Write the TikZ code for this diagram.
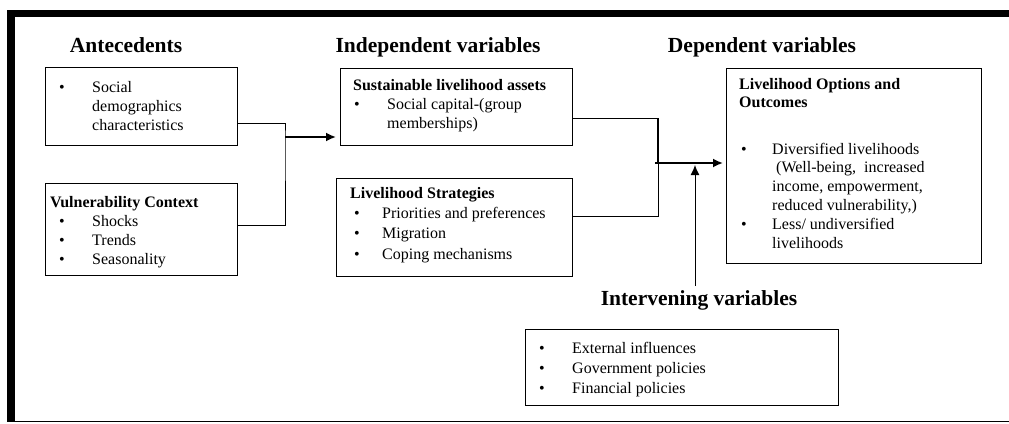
\documentclass[tikz,border=0pt]{standalone}
\usepackage{fontspec}
\setmainfont{Liberation Serif}
\usepackage{tikz}
\usetikzlibrary{positioning,calc,arrows.meta}
\newcommand{\bul}[1][33pt]{\makebox[#1][l]{\textbullet}}

\begin{document}
\begin{tikzpicture}[x=1pt, y=-1pt,
    box/.style={draw, line width=1.2pt, anchor=north west, inner sep=0},
    txt/.style={anchor=base west, align=left, inner sep=0, font=\fontsize{16}{19}\selectfont},
    head/.style={anchor=base, inner sep=0, font=\fontsize{21.5}{24}\selectfont\bfseries},
    arr/.style={-{Latex[length=10pt,width=9pt]}, line width=1.8pt}]
    \useasboundingbox (0,0) rectangle (1009,423);
    % frame
    \fill (7,10) rectangle (1009,17);
    \fill (7,10) rectangle (15,422);
    \draw[line width=1.2pt] (15,421.5) -- (1009,421.5);

    \node (antec) at (126,52.5) [head] {Antecedents};
    \node (indep) at (438,52) [head] {Independent variables};
    \node (dep) at (762,52) [head] {Dependent variables};
    \node (interv) at (699,305) [head] {Intervening variables};

    \node (social) at (45,67) [box, minimum width=192, minimum height=78] {};
    \node (vuln) at (45,183) [box, minimum width=192, minimum height=92] {};
    \node (assets) at (340,68) [box, minimum width=232, minimum height=77] {};
    \node (strat) at (336,178) [box, minimum width=236, minimum height=98] {};
    \node (outcome) at (726,68) [box, minimum width=255, minimum height=195] {};
    \node (external) at (525,329) [box, minimum width=313, minimum height=76] {};

    % text nodes sit on the baseline of their last line
    \node (socialtxt) at (59,130) [txt] {\bul Social\\ \hspace*{33pt}demographics\\ \hspace*{33pt}characteristics};
    \node (vulntxt) at (50,264) [txt] {\textbf{Vulnerability Context}\\
      \hspace*{9pt}\bul Shocks\\ \hspace*{9pt}\bul Trends\\ \hspace*{9pt}\bul Seasonality};
    \node (assetstxt) at (353,128) [txt] {\textbf{Sustainable livelihood assets}\\
      \hspace*{1pt}\bul Social capital-(group\\ \hspace*{34pt}memberships)};
    \node (strattxt) at (350,259) [txt, font=\fontsize{16}{20.3}\selectfont] {\textbf{Livelihood Strategies}\\
      \hspace*{4pt}\bul[28pt]Priorities and preferences\\ \hspace*{4pt}\bul[28pt]Migration\\
      \hspace*{4pt}\bul[28pt]Coping mechanisms};
    \node (outcomehead) at (739,107) [txt, font=\fontsize{16}{18}\selectfont\bfseries] {Livelihood Options and\\ Outcomes};
    \node (outcometxt) at (741,248) [txt, font=\fontsize{16}{18.8}\selectfont] {\bul[31pt]Diversified livelihoods\\
      \hspace*{31pt} (Well-being,\ \ increased\\ \hspace*{31pt}income, empowerment,\\
      \hspace*{31pt}reduced vulnerability,)\\ \bul[31pt]Less/ undiversified\\ \hspace*{31pt}livelihoods};
    \node (externaltxt) at (539,393) [txt, font=\fontsize{16}{20}\selectfont] {\bul External influences\\
      \bul Government policies\\ \bul Financial policies};

    \coordinate (j1) at (285,137);
    \coordinate (j2) at (658,163);
    \coordinate (up) at (695,286);
    \draw[line width=1pt] ([yshift=23pt]social.south east) -| (j1) |- ([yshift=4pt]vuln.east);
    \draw[arr, shorten >=4pt] (j1) -- (assets.west |- j1);
    \draw[line width=1.4pt] ([yshift=-11.5pt]assets.east) -| (j2);
    \draw[line width=1pt] (j2) |- ([yshift=11pt]strat.east);
    \draw[arr, shorten >=3pt] ([xshift=-3pt]j2) -- (outcome.west |- j2);
    \draw[-{Latex[length=10pt,width=9pt]}, line width=1pt, shorten >=2pt] (up) -- (up |- j2);
\end{tikzpicture}
\end{document}
